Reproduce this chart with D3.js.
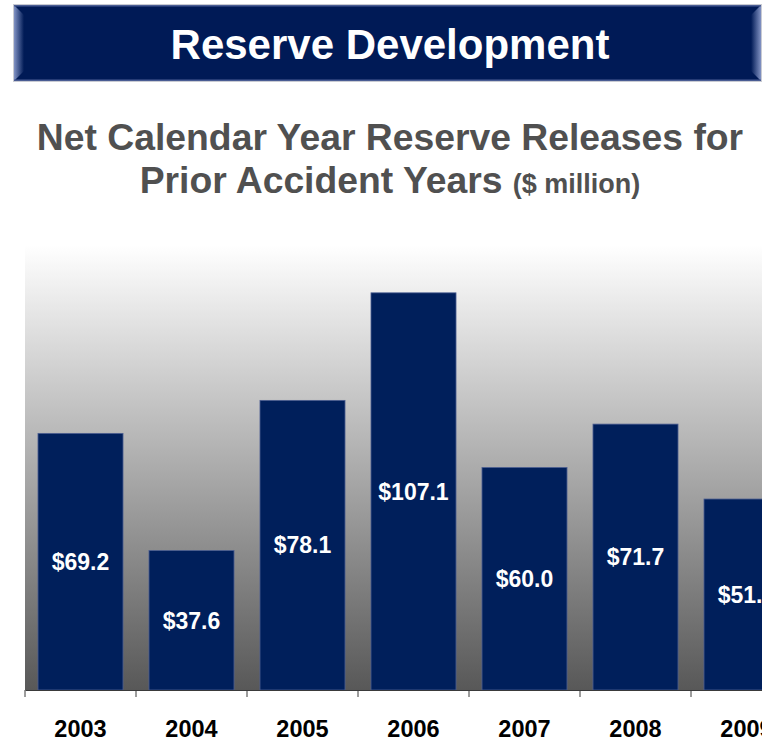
<!DOCTYPE html>
<html>
<head>
<meta charset="utf-8">
<script src="https://cdn.jsdelivr.net/npm/d3@7"></script>
<style>
  html, body { margin: 0; padding: 0; background: #ffffff; overflow: hidden; }
  svg { display: block; }
  text { font-family: "Liberation Sans", Arial, Helvetica, sans-serif; font-weight: bold; }
</style>
</head>
<body>
<svg id="chart" width="762" height="741"></svg>
<script>
// Net calendar-year reserve releases for prior accident years ($ million)
const years = ["2003", "2004", "2005", "2006", "2007", "2008", "2009"];
const releases = [69.2, 37.6, 78.1, 107.1, 60.0, 71.7, 51.5];
const valueLabels = ["$69.2", "$37.6", "$78.1", "$107.1", "$60.0", "$71.7", "$51.5"];

const headerTitle = "Reserve Development";
const titleLine1 = "Net Calendar Year Reserve Releases for";
const titleLine2 = "Prior Accident Years";
const titleUnit = "($ million)";

const svg = d3.select("#chart");
const defs = svg.append("defs");

// ---------- header banner ----------
const navy = "#001a56";
const hx = 14, hy = 5, hw = 747, hh = 76, bv = 10;

const bevelL = defs.append("linearGradient").attr("id", "bevelL")
  .attr("x1", 0).attr("x2", 1).attr("y1", 0).attr("y2", 0);
bevelL.append("stop").attr("offset", 0).attr("stop-color", "#8293c4");
bevelL.append("stop").attr("offset", 1).attr("stop-color", navy);
const bevelR = defs.append("linearGradient").attr("id", "bevelR")
  .attr("x1", 1).attr("x2", 0).attr("y1", 0).attr("y2", 0);
bevelR.append("stop").attr("offset", 0).attr("stop-color", "#8293c4");
bevelR.append("stop").attr("offset", 1).attr("stop-color", navy);

const header = svg.append("g");
header.append("rect")
  .attr("x", hx - 0.5).attr("y", hy - 0.5).attr("width", hw + 1).attr("height", hh + 1)
  .attr("fill", "none").attr("stroke", "#c9cbd3").attr("stroke-width", 1);
header.append("rect")
  .attr("x", hx).attr("y", hy).attr("width", hw).attr("height", hh)
  .attr("fill", navy);
// left / right bevel faces
header.append("polygon")
  .attr("points", [[hx, hy], [hx + bv, hy + bv], [hx + bv, hy + hh - bv], [hx, hy + hh]].join(" "))
  .attr("fill", "url(#bevelL)");
header.append("polygon")
  .attr("points", [[hx + hw, hy], [hx + hw - bv, hy + bv], [hx + hw - bv, hy + hh - bv], [hx + hw, hy + hh]].join(" "))
  .attr("fill", "url(#bevelR)");
// thin top / bottom highlights
header.append("rect").attr("x", hx).attr("y", hy).attr("width", hw).attr("height", 1.5)
  .attr("fill", "#4a5d93");
header.append("rect").attr("x", hx).attr("y", hy + hh - 1.5).attr("width", hw).attr("height", 1.5)
  .attr("fill", "#4a5d93");

header.append("text")
  .attr("x", 390).attr("y", 59)
  .attr("text-anchor", "middle")
  .attr("fill", "#ffffff")
  .attr("font-size", 42)
  .text(headerTitle);

// ---------- chart title ----------
svg.append("text")
  .attr("x", 390).attr("y", 150)
  .attr("text-anchor", "middle")
  .attr("fill", "#505050")
  .attr("font-size", 37.3)
  .text(titleLine1);

const t2 = svg.append("text")
  .attr("x", 390).attr("y", 193)
  .attr("text-anchor", "middle")
  .attr("fill", "#505050")
  .attr("font-size", 37.3);
t2.append("tspan").text(titleLine2 + " ");
t2.append("tspan").attr("font-size", 27).text(titleUnit);

// ---------- plot ----------
const plotLeft = 25, plotRight = 802, plotTop = 245, plotBottom = 690;

const x = d3.scaleBand()
  .domain(years)
  .range([plotLeft, plotRight])
  .paddingInner(0.234)
  .paddingOuter(0.117);

const y = d3.scaleLinear()
  .domain([0, 120])
  .range([plotBottom, plotTop]);

const bg = defs.append("linearGradient").attr("id", "plotBg")
  .attr("x1", 0).attr("x2", 0).attr("y1", 0).attr("y2", 1);
bg.append("stop").attr("offset", 0).attr("stop-color", "#ffffff");
bg.append("stop").attr("offset", 1).attr("stop-color", "#585858");

svg.append("rect")
  .attr("x", plotLeft).attr("y", plotTop)
  .attr("width", plotRight - plotLeft).attr("height", plotBottom - plotTop)
  .attr("fill", "url(#plotBg)");

const data = years.map((yr, i) => ({ year: yr, value: releases[i], label: valueLabels[i] }));

svg.append("g").selectAll("rect")
  .data(data)
  .join("rect")
  .attr("x", d => x(d.year))
  .attr("y", d => y(d.value))
  .attr("width", x.bandwidth())
  .attr("height", d => y(0) - y(d.value))
  .attr("fill", "#001f5b")
  .attr("stroke", "#4d5f92")
  .attr("stroke-width", 0.8);

svg.append("g").selectAll("text")
  .data(data)
  .join("text")
  .attr("x", d => x(d.year) + x.bandwidth() / 2)
  .attr("y", d => (y(d.value) + y(0)) / 2)
  .attr("dy", "0.36em")
  .attr("text-anchor", "middle")
  .attr("fill", "#ffffff")
  .attr("font-size", 23)
  .text(d => d.label);

// category axis: labels from d3.axisBottom, tick marks at band boundaries
const axis = svg.append("g")
  .attr("transform", `translate(0,${plotBottom})`)
  .call(d3.axisBottom(x).tickSize(0).tickPadding(30));
axis.select(".domain").attr("stroke", "#3a3a3a").attr("stroke-width", 1.2);
axis.selectAll(".tick text")
  .attr("font-size", 23.5)
  .attr("font-family", "'Liberation Sans', Arial, sans-serif")
  .attr("font-weight", "bold")
  .attr("fill", "#000000");

const boundaries = d3.range(years.length + 1).map(i => plotLeft + i * x.step());
axis.append("g").selectAll("line")
  .data(boundaries)
  .join("line")
  .attr("x1", d => d).attr("x2", d => d)
  .attr("y1", 0).attr("y2", 7)
  .attr("stroke", "#3a3a3a").attr("stroke-width", 1);
</script>
</body>
</html>
